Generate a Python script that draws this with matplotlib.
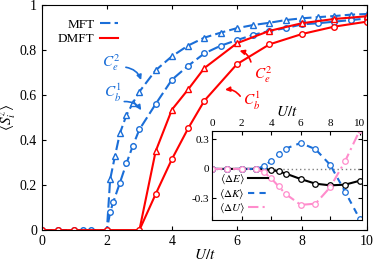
import matplotlib
matplotlib.use("Agg")
import matplotlib.pyplot as plt

plt.rcParams['font.family'] = 'Liberation Serif'
plt.rcParams['mathtext.fontset'] = 'stix'

BLUE = '#1a6ed8'
RED = '#ff0000'
PINK = '#ff8ccc'

# main panel: MFT (blue dashed) and DMFT (red solid)
mft_tri_x = [0, 0.5, 1.0, 1.25, 1.5, 2.0, 2.1, 2.25, 2.4, 2.6, 2.8, 3.0, 3.5, 4.0, 4.5, 5.0,
             5.5, 6.0, 6.5, 7.0, 7.5, 8.0, 8.5, 9.0, 9.5, 10.0]
mft_tri_y = [0, 0, 0, 0, 0, 0, 0.225, 0.33, 0.43, 0.51, 0.565, 0.615, 0.71, 0.772, 0.82, 0.855,
             0.877, 0.897, 0.911, 0.921, 0.933, 0.941, 0.946, 0.951, 0.957, 0.96]
mft_circ_x = [0, 0.5, 1.0, 1.25, 1.5, 2.0, 2.1, 2.2, 2.4, 2.6, 2.8, 3.0, 3.5, 4.0, 4.5, 5.0,
              5.5, 6.0, 6.5, 7.0, 7.5, 8.0, 8.5, 9.0, 9.5, 10.0]
mft_circ_y = [0, 0, 0, 0, 0, 0, 0.08, 0.126, 0.21, 0.296, 0.375, 0.447, 0.56, 0.668, 0.73, 0.785,
              0.819, 0.844, 0.867, 0.885, 0.897, 0.914, 0.919, 0.926, 0.933, 0.94]
dmft_tri_x = [3.0, 3.5, 4.0, 4.5, 5.0, 6.0, 7.0, 8.0, 9.0, 10.0]
dmft_tri_y = [0, 0.35, 0.535, 0.625, 0.72, 0.83, 0.885, 0.919, 0.938, 0.95]
dmft_circ_x = [0, 0.5, 1.0, 2.0, 3.0, 3.5, 4.0, 4.5, 5.0, 6.0, 7.0, 8.0, 9.0, 10.0]
dmft_circ_y = [0, 0, 0, 0, 0, 0.16, 0.315, 0.452, 0.575, 0.737, 0.825, 0.871, 0.904, 0.926]

# inset: energy differences
ins_x = [0, 1, 2, 3, 3.5, 4, 4.5, 5, 6, 7, 8, 9, 10]
dE = [0, 0, 0, 0, 0, -0.01, -0.025, -0.048, -0.103, -0.15, -0.167, -0.16, -0.12]
dK = [0, 0, 0, 0, 0.027, 0.083, 0.152, 0.207, 0.263, 0.2, 0.04, -0.23, -0.51]
dU = [0, 0, 0, 0, -0.033, -0.095, -0.177, -0.257, -0.365, -0.353, -0.185, 0.077, 0.393]
ins_labels = [r'$\langle\Delta E\rangle$', r'$\langle\Delta K\rangle$', r'$\langle\Delta U\rangle$']

fig = plt.figure(figsize=(3.74, 2.63), dpi=100)
ax = fig.add_axes([0.112, 0.125, 0.869, 0.856])

mk = dict(markersize=4, markerfacecolor='white', markeredgewidth=1.0)
ax.plot(mft_tri_x, mft_tri_y, color=BLUE, lw=1.5, dashes=(5, 2), marker='^', **mk)
ax.plot(mft_circ_x, mft_circ_y, color=BLUE, lw=1.5, dashes=(5, 2), marker='o', **mk)
ax.plot(dmft_tri_x, dmft_tri_y, color=RED, lw=1.5, marker='^', **mk)
ax.plot(dmft_circ_x, dmft_circ_y, color=RED, lw=1.5, marker='o', **mk)

# legend handles only
h1, = ax.plot([], [], color=BLUE, lw=1.5, dashes=(5, 2), label='MFT')
h2, = ax.plot([], [], color=RED, lw=1.5, label='DMFT')
ax.legend(handles=[h1, h2], loc='upper left', bbox_to_anchor=(0.02, 0.98), frameon=False,
          markerfirst=False, fontsize=9.5, handlelength=1.4, handletextpad=0.4,
          labelspacing=0.15, borderpad=0.2)

ax.set_xlim(0, 10)
ax.set_ylim(0, 1)
ax.set_xticks([0, 2, 4, 6, 8, 10])
ax.set_yticks([0, 0.2, 0.4, 0.6, 0.8, 1])
ax.set_yticklabels(['0', '0.2', '0.4', '0.6', '0.8', '1'])
ax.tick_params(direction='in', top=True, right=True, labelsize=10, length=3)
ax.set_xlabel(r'$U/t$', fontsize=11, labelpad=0)
ax.set_ylabel(r'$\langle S_i^z\rangle$', fontsize=11, labelpad=1)

# curved arrows with labels
arr_b = dict(arrowstyle='-|>', color=BLUE, lw=1.2, mutation_scale=7, connectionstyle='arc3,rad=-0.35')
arr_r = dict(arrowstyle='-|>', color=RED, lw=1.2, mutation_scale=7, connectionstyle='arc3,rad=0.35')
ax.annotate('', xy=(3.08, 0.655), xytext=(2.5, 0.725), arrowprops=arr_b)
ax.annotate('', xy=(3.1, 0.522), xytext=(2.45, 0.57), arrowprops=arr_b)
ax.annotate('', xy=(6.0, 0.80), xytext=(6.45, 0.735), arrowprops=arr_r)
ax.annotate('', xy=(5.55, 0.622), xytext=(6.15, 0.585), arrowprops=arr_r)
ax.text(2.15, 0.745, r'$C_e^2$', color=BLUE, fontsize=11, ha='center', va='center')
ax.text(2.2, 0.61, r'$C_b^1$', color=BLUE, fontsize=11, ha='center', va='center')
ax.text(6.8, 0.69, r'$C_e^2$', color=RED, fontsize=11, ha='center', va='center')
ax.text(6.45, 0.575, r'$C_b^1$', color=RED, fontsize=11, ha='center', va='center')

# inset
ins = fig.add_axes([0.567, 0.163, 0.401, 0.339])
ims = dict(markersize=4, markerfacecolor='white', markeredgewidth=0.9)
ins.axhline(0, color='gray', lw=1, ls=(0, (1, 2)))
ins.plot(ins_x, dE, color='black', lw=1.5, marker='o', **ims)
ins.plot(ins_x, dK, color=BLUE, lw=1.5, dashes=(3, 2.5), marker='o', **ims)
ins.plot(ins_x, dU, color=PINK, lw=1.5, dashes=(5, 2, 1, 2), marker='o', **ims)
ins.set_xlim(0, 10.15)
ins.set_ylim(-0.52, 0.385)
ins.set_xticks([0, 2, 4, 6, 8, 10])
ins.set_yticks([0.3, 0, -0.3])
ins.set_yticklabels(['0.3', '0', '-0.3'])
ins.xaxis.tick_top()
ins.xaxis.set_label_position('top')
ins.tick_params(direction='in', top=True, bottom=True, left=True, right=True,
                labelsize=8, length=3, pad=2)
ins.set_xlabel(r'$U/t$', fontsize=11, labelpad=2)
leg_h = [ins.plot([], [], color='black', lw=1.5)[0],
         ins.plot([], [], color=BLUE, lw=1.5, dashes=(3, 2.5))[0],
         ins.plot([], [], color=PINK, lw=1.5, dashes=(5, 2, 1, 2))[0]]
ins.legend(leg_h, ins_labels, loc='center left', bbox_to_anchor=(0.0, 0.29), frameon=False,
           markerfirst=False, fontsize=8, handlelength=1.8, handletextpad=0.3,
           labelspacing=0.1, borderpad=0.1)

fig.savefig('out.png', dpi=100)
